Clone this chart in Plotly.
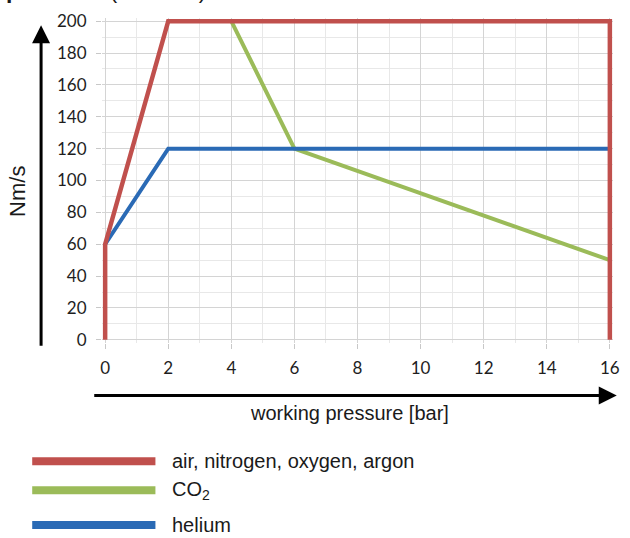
import plotly.graph_objects as go

# Data
air_x = [0, 0, 2, 16, 16]
air_y = [0, 60, 200, 200, 0]
co2_x = [4, 6, 16]
co2_y = [200, 120, 50]
he_x = [0, 2, 16]
he_y = [60, 120, 120]

names = ["air, nitrogen, oxygen, argon", "CO<sub>2</sub>", "helium"]
colors = ["#c0504d", "#9bbb59", "#2a6ab5"]

x_ticks = [0, 2, 4, 6, 8, 10, 12, 14, 16]
y_ticks = [0, 20, 40, 60, 80, 100, 120, 140, 160, 180, 200]

W, H = 630, 538
xr = [-0.1, 16.1]
yr = [-2, 202]
# target pixel mapping: x=0 -> 105, x=16 -> 617; y=0 -> 340, y=200 -> 20
kx = 32.0
ky = 1.6
L = 105 + xr[0] * kx
pw = (xr[1] - xr[0]) * kx
R = W - L - pw
T = 20 - (yr[1] - 200) * ky
ph = (yr[1] - yr[0]) * ky
B = H - T - ph

def px(x):
    return (x - L) / pw

def py(y):
    return (H - B - y) / ph

fig = go.Figure()
fig.add_trace(go.Scatter(x=co2_x, y=co2_y, mode="lines", line=dict(color=colors[1], width=4), showlegend=False))
fig.add_trace(go.Scatter(x=he_x, y=he_y, mode="lines", line=dict(color=colors[2], width=4), showlegend=False))
fig.add_trace(go.Scatter(x=air_x, y=air_y, mode="lines", line=dict(color=colors[0], width=4.5), showlegend=False))

tickfont = dict(family="Lato, Open Sans, sans-serif", size=17, color="#1e1e1e")

fig.update_layout(
    width=W, height=H,
    margin=dict(l=L, r=R, t=T, b=B),
    paper_bgcolor="white", plot_bgcolor="white",
    showlegend=False,
    xaxis=dict(range=xr, tickvals=x_ticks, ticks="outside", ticklen=5, tickcolor="#c8c8c8",
               showgrid=True, gridcolor="#d4d4d4", gridwidth=1, zeroline=False, showline=False,
               tickfont=tickfont, ticklabelstandoff=5,
               minor=dict(dtick=1, tick0=0, showgrid=True, gridcolor="#e8e8e8", gridwidth=1)),
    yaxis=dict(range=yr, tickvals=y_ticks, ticks="outside", ticklen=5, tickcolor="#c8c8c8",
               showgrid=True, gridcolor="#d4d4d4", gridwidth=1, zeroline=False, showline=False,
               tickfont=tickfont, ticklabelstandoff=6,
               minor=dict(dtick=10, tick0=0, showgrid=True, gridcolor="#e8e8e8", gridwidth=1)),
)

ann = []
# y arrow
ann.append(dict(xref="paper", yref="paper", x=px(40), y=py(24), ax=0, ay=322, axref="pixel", ayref="pixel",
                showarrow=True, arrowhead=2, arrowsize=1.2, arrowwidth=3, arrowcolor="black", text=""))
# x arrow
ann.append(dict(xref="paper", yref="paper", x=px(624), y=py(396), ax=-524, ay=0, axref="pixel", ayref="pixel",
                showarrow=True, arrowhead=2, arrowsize=1.2, arrowwidth=3, arrowcolor="black", text=""))
labfont = dict(family="Liberation Sans, Arial, sans-serif", color="#1a1a1a")
ann.append(dict(xref="paper", yref="paper", x=px(16), y=py(191), xanchor="center", yanchor="middle",
                text="Nm/s", textangle=-90, showarrow=False, font=dict(size=22, **labfont)))
ann.append(dict(xref="paper", yref="paper", x=px(353), y=py(413), xanchor="center", yanchor="middle",
                text="working pressure [bar]", showarrow=False, font=dict(size=20, **labfont)))
ann.append(dict(xref="paper", yref="paper", x=px(2), y=py(4), xanchor="left", yanchor="bottom",
                text="<b>pressure</b> (DLV160)", showarrow=False, font=dict(size=23, **labfont)))

shapes = []
leg_y = [462, 491, 526]
for name, c, yy in zip(names, colors, leg_y):
    shapes.append(dict(type="line", xref="paper", yref="paper", x0=px(31), x1=px(156), y0=py(yy), y1=py(yy),
                       line=dict(color=c, width=8)))
    ann.append(dict(xref="paper", yref="paper", x=px(171), y=py(yy), xanchor="left", yanchor="middle",
                    text=name, showarrow=False, font=dict(size=20, **labfont)))

fig.update_layout(annotations=ann, shapes=shapes)
fig.write_html("out.html", config={"displayModeBar": False},
               post_script="document.body.style.margin='0';document.body.style.overflow='hidden';")
